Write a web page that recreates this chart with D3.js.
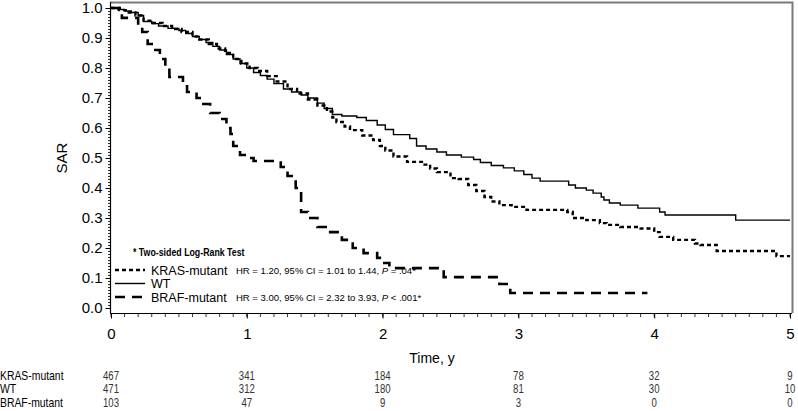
<!DOCTYPE html>
<html><head><meta charset="utf-8">
<script src="https://cdn.jsdelivr.net/npm/d3@7"></script>
<style>body{margin:0;background:#fff}svg{display:block}</style>
</head><body><svg id="c" width="798" height="411"></svg>
<script>
// ---- data ----
const xTicks = [0,1,2,3,4,5];
const yTicks = [0,0.1,0.2,0.3,0.4,0.5,0.6,0.7,0.8,0.9,1.0];
const groups = ["KRAS-mutant","WT","BRAF-mutant"];
const hrText = ["HR = 1.20, 95% CI = 1.01 to 1.44, ", "", "HR = 3.00, 95% CI = 2.32 to 3.93, "];
const pText = ["P = .04*", "", "P < .001*"];
const kmTimes_KRAS = [0,0.06,0.12,0.18,0.24,0.3,0.38,0.45,0.52,0.6,0.65,0.72,0.78,0.84,0.9,0.96,1.02,1.08,1.15,1.22,1.3,1.37,1.45,1.52,1.59,1.63,1.66,1.72,1.76,1.85,1.93,1.98,2.02,2.08,2.18,2.3,2.35,2.4,2.5,2.56,2.63,2.69,2.75,2.8,2.86,2.95,3.06,3.36,3.4,3.5,3.6,3.65,3.75,3.9,4.0,4.04,4.14,4.3,4.34,4.46,4.9,5.0];
const kmSurv_KRAS  = [1,0.993,0.985,0.975,0.958,0.95,0.94,0.93,0.92,0.905,0.895,0.88,0.865,0.85,0.83,0.815,0.8,0.79,0.773,0.755,0.73,0.715,0.695,0.675,0.655,0.635,0.62,0.605,0.593,0.575,0.56,0.54,0.525,0.505,0.487,0.478,0.465,0.453,0.433,0.43,0.41,0.39,0.37,0.355,0.343,0.337,0.327,0.32,0.3,0.293,0.283,0.277,0.27,0.265,0.253,0.237,0.227,0.215,0.21,0.19,0.173,0.173];
const kmTimes_WT = [0,0.05,0.1,0.15,0.2,0.24,0.3,0.35,0.42,0.5,0.55,0.6,0.65,0.7,0.75,0.8,0.85,0.9,0.95,1.0,1.05,1.1,1.15,1.2,1.27,1.33,1.4,1.45,1.52,1.57,1.63,1.7,1.81,1.88,1.96,2.02,2.08,2.2,2.25,2.32,2.4,2.47,2.58,2.67,2.72,2.8,2.89,2.97,3.04,3.1,3.16,3.37,3.42,3.5,3.55,3.61,3.63,3.67,3.75,3.88,4.04,4.08,4.6,5.0];
const kmSurv_WT  = [1,0.995,0.99,0.985,0.975,0.955,0.948,0.94,0.932,0.925,0.915,0.905,0.895,0.885,0.872,0.86,0.845,0.83,0.815,0.8,0.785,0.775,0.763,0.748,0.73,0.72,0.71,0.7,0.683,0.665,0.645,0.64,0.635,0.625,0.61,0.595,0.578,0.565,0.54,0.53,0.52,0.51,0.503,0.495,0.485,0.475,0.467,0.457,0.445,0.433,0.423,0.41,0.4,0.393,0.383,0.37,0.36,0.35,0.343,0.333,0.32,0.31,0.293,0.293];
const kmTimes_BRAF = [0,0.08,0.2,0.23,0.27,0.31,0.36,0.4,0.43,0.53,0.56,0.63,0.68,0.73,0.8,0.85,0.88,0.9,0.95,1.0,1.05,1.25,1.3,1.36,1.4,1.45,1.52,1.6,1.7,1.78,1.86,1.96,2.0,2.05,2.45,2.86,2.94,3.95];
const kmSurv_BRAF  = [1,0.967,0.94,0.92,0.88,0.86,0.83,0.8,0.77,0.75,0.72,0.7,0.68,0.65,0.63,0.6,0.58,0.54,0.51,0.5,0.49,0.47,0.44,0.4,0.32,0.3,0.27,0.253,0.227,0.2,0.183,0.167,0.15,0.133,0.103,0.08,0.05,0.05];
const atRisk_KRAS = [467,341,184,78,32,9];
const atRisk_WT   = [471,312,180,81,30,10];
const atRisk_BRAF = [103,47,9,3,0,0];

// ---- layout ----
const svg = d3.select("#c");
const font = "'Liberation Sans', Arial, sans-serif";
const x = d3.scaleLinear().domain([0,5]).range([111,790]);
const y = d3.scaleLinear().domain([0,1]).range([308,8]);
const axisY = 313;
const NARROW = 0.8;

// frame (top/right)
svg.append("path").attr("d",`M110,2.5H792.5V${axisY}`).attr("fill","none").attr("stroke","#7a7a7a").attr("stroke-width",2);

// y axis
const gy = svg.append("g").attr("transform","translate(110.5,0)");
gy.append("line").attr("y1",2).attr("y2",axisY).attr("stroke","#000").attr("stroke-width",1.2);
const yMinor = d3.range(0,101).map(i=>i/100);
gy.selectAll("line.mn").data(yMinor).join("line").attr("class","mn")
  .attr("x1",0).attr("x2",-2.5).attr("y1",d=>Math.round(y(d))+0.5).attr("y2",d=>Math.round(y(d))+0.5).attr("stroke","#000").attr("stroke-width",0.8);
gy.call(d3.axisLeft(y).tickValues(yTicks).tickFormat(d3.format(".1f")).tickSize(5).tickPadding(3))
  .call(g=>g.select(".domain").remove())
  .call(g=>g.selectAll("text").attr("font-family",font).attr("font-size",15).attr("fill","#000"))
  .call(g=>g.selectAll(".tick line").attr("stroke","#000"));

// x axis
const gx = svg.append("g").attr("transform",`translate(0,${axisY+0.5})`);
gx.append("line").attr("x1",110).attr("x2",792).attr("stroke","#000").attr("stroke-width",1.2);
const xMinor = d3.range(0,51).map(i=>i/10);
gx.selectAll("line.mn").data(xMinor).join("line").attr("class","mn")
  .attr("x1",d=>x(d)).attr("x2",d=>x(d)).attr("y1",0).attr("y2",3.5).attr("stroke","#000").attr("stroke-width",0.8);
gx.call(d3.axisBottom(x).tickValues(xTicks).tickFormat(d3.format("d")).tickSize(5).tickPadding(10))
  .call(g=>g.select(".domain").remove())
  .call(g=>g.selectAll("text").attr("font-family",font).attr("font-size",15).attr("fill","#000"))
  .call(g=>g.selectAll(".tick line").attr("stroke","#000"));

// axis labels
svg.append("text").attr("transform","translate(67,158) rotate(-90)").attr("text-anchor","middle")
  .attr("font-family",font).attr("font-size",15).text("SAR");
svg.append("text").attr("x",432).attr("y",363).attr("text-anchor","middle")
  .attr("font-family",font).attr("font-size",14).text("Time, y");

// curves
const styles = [
  {dash:"4,3", w:2.4},
  {dash:null, w:1.4},
  {dash:"10,7", w:2.6}
];
const series = [
  kmTimes_KRAS.map((t,i)=>[t,kmSurv_KRAS[i]]),
  kmTimes_WT.map((t,i)=>[t,kmSurv_WT[i]]),
  kmTimes_BRAF.map((t,i)=>[t,kmSurv_BRAF[i]])
];
const line = d3.line().x(d=>x(d[0])).y(d=>y(d[1])).curve(d3.curveStepAfter);
series.forEach((s,i)=>{
  svg.append("path").attr("d",line(s)).attr("fill","none").attr("stroke","#000")
    .attr("stroke-width",styles[i].w).attr("stroke-dasharray",styles[i].dash);
});

// legend
svg.append("text").attr("transform",`translate(133,256) scale(${NARROW},1)`).attr("font-family",font).attr("font-weight","bold")
  .attr("font-size",11).text("* Two-sided Log-Rank Test");
const legY = [270,283.5,297];
groups.forEach((g,i)=>{
  svg.append("line").attr("x1",115).attr("x2",145).attr("y1",legY[i]).attr("y2",legY[i])
    .attr("stroke","#000").attr("stroke-width",styles[i].w).attr("stroke-dasharray",styles[i].dash);
  svg.append("text").attr("x",151).attr("y",legY[i]+4.5).attr("font-family",font).attr("font-size",12.5).text(g);
  if(hrText[i]){
    const t = svg.append("text").attr("x",236).attr("y",legY[i]+4).attr("font-family",font).attr("font-size",9.5);
    t.append("tspan").text(hrText[i]);
    t.append("tspan").attr("font-style","italic").text(pText[i].slice(0,1));
    t.append("tspan").text(pText[i].slice(1));
  }
});

// risk table
const riskRows = [atRisk_KRAS, atRisk_WT, atRisk_BRAF];
const rowY = [380,393,407];
riskRows.forEach((r,i)=>{
  svg.append("text").attr("transform",`translate(0,${rowY[i]}) scale(${NARROW},1)`).attr("font-family",font).attr("font-size",13).text(groups[i]);
  svg.selectAll(null).data(r).join("text").attr("transform",(d,j)=>`translate(${x(xTicks[j])},${rowY[i]}) scale(${NARROW},1)`)
    .attr("text-anchor","middle").attr("font-family",font).attr("font-size",12).attr("fill","#333").text(d=>d);
});
</script></body></html>
